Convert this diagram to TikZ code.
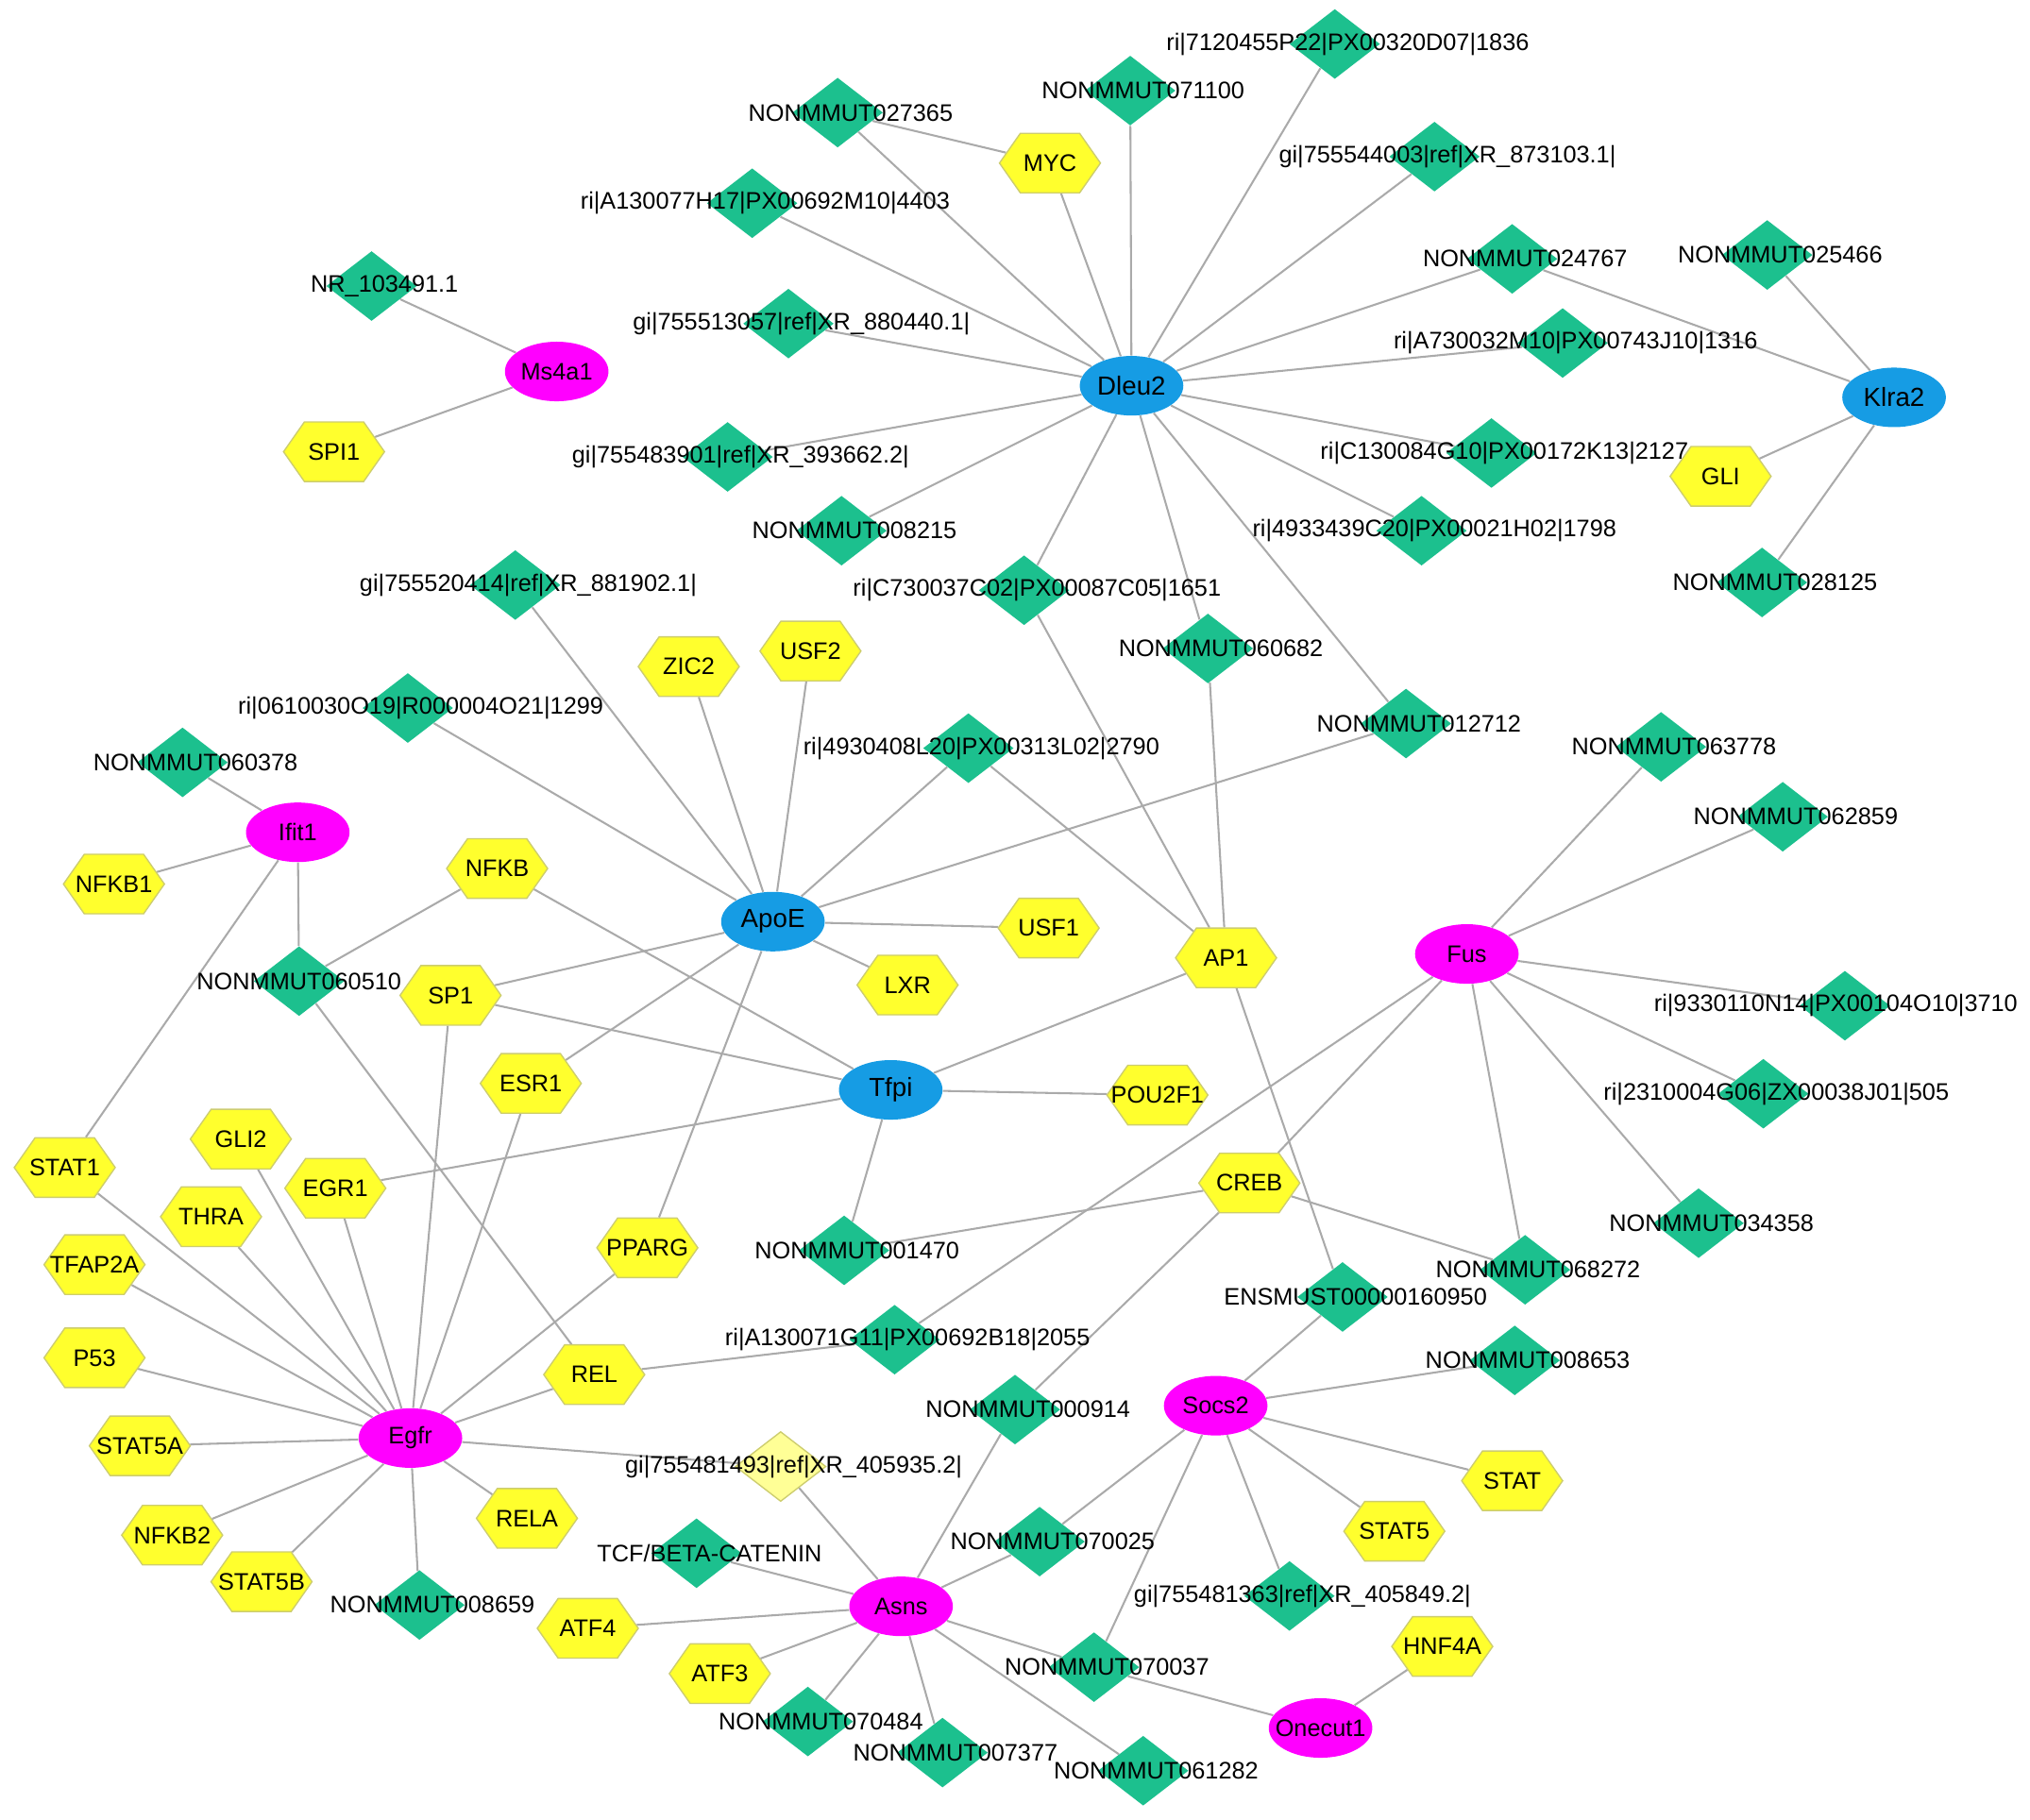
\documentclass[tikz,border=0pt]{standalone}
\usepackage{fontspec}
\setmainfont{Liberation Sans}
\usetikzlibrary{shapes.geometric,shapes.symbols,backgrounds}
\definecolor{hubblue}{RGB}{22,156,228}
\definecolor{hubpink}{RGB}{255,0,255}
\definecolor{lncgreen}{RGB}{28,192,142}
\definecolor{tfyellow}{RGB}{255,255,45}
\definecolor{tfline}{RGB}{205,205,110}
\definecolor{paleyellow}{RGB}{255,255,150}
\definecolor{linkgray}{RGB}{170,170,170}
\begin{document}
\begin{tikzpicture}[x=0.2mm,y=-0.2mm,
  gene/.style={ellipse,minimum width=16mm,minimum height=9.2mm,inner sep=0pt},
  gtext/.style={font=\fontsize{10.5}{12}\selectfont,inner sep=0pt},
  bluegene/.style={gene,fill=hubblue,label={[gtext,font=\fontsize{11.5}{13}\selectfont]center:#1}},
  pinkgene/.style={gene,fill=hubpink,label={[gtext]center:#1}},
  tf/.style={signal,signal to=east and west,signal pointer angle=110,fill=tfyellow,draw=tfline,line width=0.2mm,
    minimum width=15.6mm,minimum height=9.2mm,inner sep=0pt,label={[tftext]center:#1}},
  tftext/.style={font=\fontsize{10.5}{12}\selectfont,inner sep=0pt},
  lnc/.style={diamond,fill=lncgreen,minimum width=14mm,minimum height=10.8mm,inner sep=0pt},
  lbl/.style={font=\fontsize{10.5}{12}\selectfont,inner sep=0pt,xshift=2mm},
  link/.style={draw=linkgray,line width=0.3mm}]
\useasboundingbox (0,0) rectangle (1568,1406);

% genes
\node[bluegene=Dleu2] (dleu2) at (874,298) {};
\node[bluegene=Klra2] (klra2) at (1463,307) {};
\node[bluegene=ApoE] (apoe) at (597,712) {};
\node[bluegene=Tfpi] (tfpi) at (688,842) {};
\node[pinkgene=Ms4a1] (ms4a1) at (430,287) {};
\node[pinkgene=Ifit1] (ifit1) at (230,643) {};
\node[pinkgene=Fus] (fus) at (1133,737) {};
\node[pinkgene=Egfr] (egfr) at (317,1111) {};
\node[pinkgene=Socs2] (socs2) at (939,1086) {};
\node[pinkgene=Asns] (asns) at (696,1241) {};
\node[pinkgene=Onecut1] (onecut1) at (1020,1335) {};

% transcription factors
\node[tf=MYC] (myc) at (811,126) {};
\node[tf=SPI1] (spi1) at (258,349) {};
\node[tf=GLI] (gli) at (1329,368) {};
\node[tf=ZIC2] (zic2) at (532,515) {};
\node[tf=USF2] (usf2) at (626,503) {};
\node[tf=NFKB1] (nfkb1) at (88,683) {};
\node[tf=NFKB] (nfkb) at (384,671) {};
\node[tf=USF1] (usf1) at (810,717) {};
\node[tf=LXR] (lxr) at (701,761) {};
\node[tf=AP1] (ap1) at (947,740) {};
\node[tf=SP1] (sp1) at (348,769) {};
\node[tf=ESR1] (esr1) at (410,837) {};
\node[tf=POU2F1] (pou2f1) at (894,846) {};
\node[tf=GLI2] (gli2) at (186,880) {};
\node[tf=STAT1] (stat1) at (50,902) {};
\node[tf=EGR1] (egr1) at (259,918) {};
\node[tf=CREB] (creb) at (965,914) {};
\node[tf=THRA] (thra) at (163,940) {};
\node[tf=PPARG] (pparg) at (500,964) {};
\node[tf=TFAP2A] (tfap2a) at (73,977) {};
\node[tf=P53] (p53) at (73,1049) {};
\node[tf=REL] (rel) at (459,1062) {};
\node[tf=STAT5A] (stat5a) at (108,1117) {};
\node[tf=RELA] (rela) at (407,1173) {};
\node[tf=STAT] (stat) at (1168,1144) {};
\node[tf=NFKB2] (nfkb2) at (133,1186) {};
\node[tf=STAT5] (stat5) at (1077,1183) {};
\node[tf=STAT5B] (stat5b) at (202,1222) {};
\node[tf=ATF4] (atf4) at (454,1258) {};
\node[tf=ATF3] (atf3) at (556,1293) {};
\node[tf=HNF4A] (hnf4a) at (1114,1272) {};

% lncRNAs
\node[lnc,label={[lbl]center:NONMMUT027365}] (n027365) at (647,87) {};
\node[lnc,label={[lbl]center:NONMMUT071100}] (n071100) at (873,70) {};
\node[lnc,label={[lbl]center:ri|7120455P22|PX00320D07|1836}] (r1836) at (1031,34) {};
\node[lnc,label={[lbl]center:gi|755544003|ref|XR\_873103.1|}] (g873103) at (1108,121) {};
\node[lnc,label={[lbl]center:ri|A130077H17|PX00692M10|4403}] (r4403) at (581,157) {};
\node[lnc,label={[lbl]center:NONMMUT024767}] (n024767) at (1168,200) {};
\node[lnc,label={[lbl]center:NONMMUT025466}] (n025466) at (1365,197) {};
\node[lnc,label={[lbl]center:NR\_103491.1}] (nr103491) at (287,221) {};
\node[lnc,label={[lbl]center:gi|755513057|ref|XR\_880440.1|}] (g880440) at (609,250) {};
\node[lnc,label={[lbl]center:ri|A730032M10|PX00743J10|1316}] (r1316) at (1207,265) {};
\node[lnc,label={[lbl]center:gi|755483901|ref|XR\_393662.2|}] (g393662) at (562,353) {};
\node[lnc,label={[lbl]center:ri|C130084G10|PX00172K13|2127}] (r2127) at (1152,350) {};
\node[lnc,label={[lbl]center:NONMMUT008215}] (n008215) at (650,410) {};
\node[lnc,label={[lbl]center:ri|4933439C20|PX00021H02|1798}] (r1798) at (1098,410) {};
\node[lnc,label={[lbl]center:NONMMUT028125}] (n028125) at (1361,450) {};
\node[lnc,label={[lbl]center:gi|755520414|ref|XR\_881902.1|}] (g881902) at (398,452) {};
\node[lnc,label={[lbl]center:ri|C730037C02|PX00087C05|1651}] (r1651) at (791,456) {};
\node[lnc,label={[lbl]center:NONMMUT060682}] (n060682) at (933,501) {};
\node[lnc,label={[lbl]center:ri|0610030O19|R000004O21|1299}] (r1299) at (315,547) {};
\node[lnc,label={[lbl]center:NONMMUT012712}] (n012712) at (1086,559) {};
\node[lnc,label={[lbl]center:NONMMUT060378}] (n060378) at (141,589) {};
\node[lnc,label={[lbl]center:ri|4930408L20|PX00313L02|2790}] (r2790) at (748,578) {};
\node[lnc,label={[lbl]center:NONMMUT063778}] (n063778) at (1283,577) {};
\node[lnc,label={[lbl]center:NONMMUT062859}] (n062859) at (1377,631) {};
\node[lnc,label={[lbl,xshift=-2mm]center:NONMMUT060510}] (n060510) at (231,758) {};
\node[lnc,label={[lbl,xshift=-3.4mm]center:ri|9330110N14|PX00104O10|3710}] (r3710) at (1425,777) {};
\node[lnc,label={[lbl]center:ri|2310004G06|ZX00038J01|505}] (r505) at (1362,845) {};
\node[lnc,label={[lbl]center:NONMMUT034358}] (n034358) at (1312,945) {};
\node[lnc,label={[lbl]center:NONMMUT001470}] (n001470) at (652,966) {};
\node[lnc,label={[lbl]center:NONMMUT068272}] (n068272) at (1178,981) {};
\node[lnc,label={[lbl]center:ENSMUST00000160950}] (ens160950) at (1037,1002) {};
\node[lnc,label={[lbl]center:ri|A130071G11|PX00692B18|2055}] (r2055) at (691,1035) {};
\node[lnc,label={[lbl]center:NONMMUT008653}] (n008653) at (1170,1051) {};
\node[lnc,label={[lbl]center:NONMMUT000914}] (n000914) at (784,1089) {};
\node[lnc,fill=paleyellow,draw=tfline,line width=0.2mm,label={[lbl]center:gi|755481493|ref|XR\_405935.2|}] (g405935) at (603,1133) {};
\node[lnc,label={[lbl]center:NONMMUT070025}] (n070025) at (803,1191) {};
\node[lnc,label={[lbl]center:TCF/BETA-CATENIN}] (tcf) at (538,1200) {};
\node[lnc,label={[lbl]center:gi|755481363|ref|XR\_405849.2|}] (g405849) at (996,1233) {};
\node[lnc,label={[lbl]center:NONMMUT008659}] (n008659) at (324,1240) {};
\node[lnc,label={[lbl]center:NONMMUT070037}] (n070037) at (845,1288) {};
\node[lnc,label={[lbl]center:NONMMUT070484}] (n070484) at (624,1330) {};
\node[lnc,label={[lbl]center:NONMMUT007377}] (n007377) at (728,1354) {};
\node[lnc,label={[lbl]center:NONMMUT061282}] (n061282) at (883,1368) {};

% interactions
\begin{scope}[on background layer]
\fill[white] (0,0) rectangle (1568,1406);
\foreach \t in {n027365,myc,n071100,r1836,g873103,r4403,n024767,g880440,r1316,g393662,r2127,n008215,r1798,r1651,n060682,n012712}
  \draw[link] (dleu2) -- (\t);
\draw[link] (myc) -- (n027365);
\foreach \t in {n025466,n024767,gli,n028125}
  \draw[link] (klra2) -- (\t);
\foreach \t in {nr103491,spi1}
  \draw[link] (ms4a1) -- (\t);
\foreach \t in {g881902,r1299,zic2,usf2,r2790,n012712,usf1,lxr,sp1,esr1,pparg}
  \draw[link] (apoe) -- (\t);
\foreach \t in {nfkb,sp1,ap1,pou2f1,egr1,n001470}
  \draw[link] (tfpi) -- (\t);
\foreach \t in {r1651,n060682,r2790,ens160950}
  \draw[link] (ap1) -- (\t);
\foreach \t in {n060378,nfkb1,n060510,stat1}
  \draw[link] (ifit1) -- (\t);
\foreach \t in {nfkb,rel}
  \draw[link] (n060510) -- (\t);
\foreach \t in {stat1,gli2,thra,tfap2a,p53,stat5a,nfkb2,stat5b,n008659,rela,rel,pparg,egr1,sp1,esr1,g405935}
  \draw[link] (egfr) -- (\t);
\draw[link] (rel) -- (r2055);
\foreach \t in {n063778,n062859,r3710,r505,n034358,n068272,creb,r2055}
  \draw[link] (fus) -- (\t);
\foreach \t in {n001470,n068272,n000914}
  \draw[link] (creb) -- (\t);
\foreach \t in {ens160950,n008653,stat,stat5,g405849,n070037,n070025}
  \draw[link] (socs2) -- (\t);
\foreach \t in {g405935,tcf,n000914,n070025,atf4,atf3,n070484,n007377,n061282,n070037}
  \draw[link] (asns) -- (\t);
\foreach \t in {n070037,hnf4a}
  \draw[link] (onecut1) -- (\t);
\end{scope}
\end{tikzpicture}
\end{document}
